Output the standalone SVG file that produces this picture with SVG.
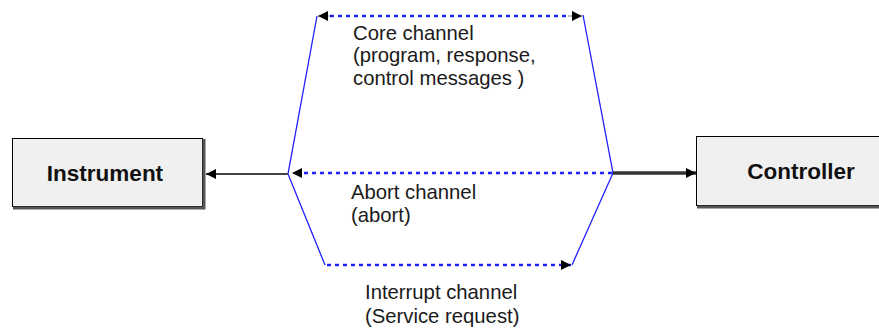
<svg xmlns="http://www.w3.org/2000/svg" width="879" height="329" viewBox="0 0 879 329">
<defs>
<style>
.box{fill:#f0f0f0;stroke:#000;stroke-width:1}
.shadow{fill:none;stroke:#555;stroke-width:3}
.name{font-family:"Liberation Sans",Arial,sans-serif;font-weight:bold;font-size:22.5px;fill:#111;text-anchor:middle}
.lbl{font-family:"Liberation Sans",Arial,sans-serif;font-size:20.3px;fill:#1a1a1a}
.edge{fill:none;stroke:#2020ff;stroke-width:1.3}
.dot{fill:none;stroke:#2020ff;stroke-width:2.5;stroke-dasharray:4 4}
</style>
<marker id="ah" viewBox="0 0 10 10" refX="10" refY="5" markerWidth="12" markerHeight="10" markerUnits="userSpaceOnUse" orient="auto">
<path d="M0,0 L10,5 L0,10 z" fill="#000"/>
</marker>
</defs>
<g id="instrument">
<rect class="box" x="12.5" y="138.5" width="190" height="68"/>
<polyline class="shadow" points="13,208 204,208 204,139"/>
<text class="name" x="105" y="181">Instrument</text>
</g>
<g id="controller">
<rect class="box" x="696.5" y="136.5" width="200" height="69"/>
<line class="shadow" x1="697" y1="207" x2="879" y2="207"/>
<text class="name" x="801" y="179">Controller</text>
</g>
<g id="connectors">
<polyline class="edge" points="317,16 288,174 325,265"/>
<polyline class="edge" points="583,15 613,173 572,265"/>
<line class="dot" x1="330" y1="16" x2="570" y2="16"/>
<line x1="332" y1="16" x2="318" y2="16" stroke="#000" stroke-width="0.5" marker-end="url(#ah)"/>
<line x1="568" y1="16" x2="582" y2="16" stroke="#000" stroke-width="0.5" marker-end="url(#ah)"/>
<line class="dot" x1="612" y1="173" x2="292" y2="173" marker-end="url(#ah)"/>
<line class="dot" x1="327" y1="265" x2="571" y2="265" marker-end="url(#ah)"/>
<line x1="288" y1="174" x2="206" y2="174" stroke="#444" stroke-width="2" marker-end="url(#ah)"/>
<line x1="613" y1="173" x2="696" y2="173" stroke="#333" stroke-width="3.5" marker-end="url(#ah)"/>
</g>
<g id="labels">
<text class="lbl" x="353" y="40">Core channel</text>
<text class="lbl" x="353" y="62">(program, response,</text>
<text class="lbl" x="353" y="85">control messages )</text>
<text class="lbl" x="351" y="199">Abort channel</text>
<text class="lbl" x="351" y="222">(abort)</text>
<text class="lbl" x="365" y="299">Interrupt channel</text>
<text class="lbl" x="365" y="323">(Service request)</text>
</g>
</svg>
